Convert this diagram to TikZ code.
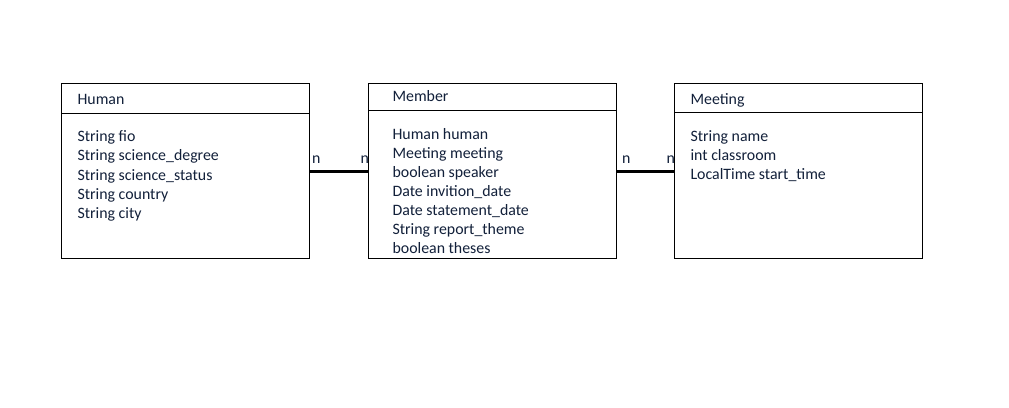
\documentclass[tikz,border=0pt]{standalone}
\usepackage{fontspec}
\setmainfont{Carlito}
\definecolor{txt}{RGB}{18,32,58}
\begin{document}
\begin{tikzpicture}[x=0.75pt,y=-0.75pt,
  entity/.style={draw=black,line width=0.75pt,minimum width=186pt,minimum height=131.25pt,anchor=north west,inner sep=0pt},
  lbl/.style={anchor=base west,inner sep=0pt,text=txt,font=\fontsize{11.9pt}{14pt}\selectfont},
  rel/.style={draw=black,line width=2.25pt}]
\useasboundingbox (0,0) rectangle (1009,407);
\fill[white] (0,0) rectangle (1009,407);
% boxes
\node[entity] (human) at (61,83.2) {};
\node[entity] (member) at (368,83.2) {};
\node[entity] (meeting) at (674.2,83.2) {};
% header lines
\coordinate (hh) at (61,113);
\coordinate (mh) at (368,110);
\coordinate (th) at (674.2,112.5);
\draw[line width=0.75pt] (hh) -- (hh -| human.east);
\draw[line width=0.75pt] (mh) -- (mh -| member.east);
\draw[line width=0.75pt] (th) -- (th -| meeting.east);
% titles
\node[lbl] (t1) at (77.3,104.3) {Human};
\node[lbl] (t2) at (392.3,101) {Member};
\node[lbl] (t3) at (690.3,104.3) {Meeting};
% Human attributes
\node[lbl] (h1) at (77.3,141.5) {String fio};
\node[lbl] (h2) at (77.3,160.8) {String science\_degree};
\node[lbl] (h3) at (77.3,180.1) {String science\_status};
\node[lbl] (h4) at (77.3,199.4) {String country};
\node[lbl] (h5) at (77.3,218.7) {String city};
% Member attributes
\node[lbl] (m1) at (392.3,139) {Human human};
\node[lbl] (m2) at (392.3,158) {Meeting meeting};
\node[lbl] (m3) at (392.3,177) {boolean speaker};
\node[lbl] (m4) at (392.3,196) {Date invition\_date};
\node[lbl] (m5) at (392.3,215) {Date statement\_date};
\node[lbl] (m6) at (392.3,234) {String report\_theme};
\node[lbl] (m7) at (392.3,253) {boolean theses};
% Meeting attributes
\node[lbl] (e1) at (690.3,141) {String name};
\node[lbl] (e2) at (690.3,160) {int classroom};
\node[lbl] (e3) at (690.3,179) {LocalTime start\_time};
% relations
\draw[rel] (human.east) -- (member.west);
\draw[rel] (member.east) -- (meeting.west);
\node[lbl] (n1) at (311.8,163.5) {n};
\node[lbl] (n2) at (360.3,163.5) {n};
\node[lbl] (n3) at (621.8,163.5) {n};
\node[lbl] (n4) at (666.3,163.5) {n};
\end{tikzpicture}
\end{document}
